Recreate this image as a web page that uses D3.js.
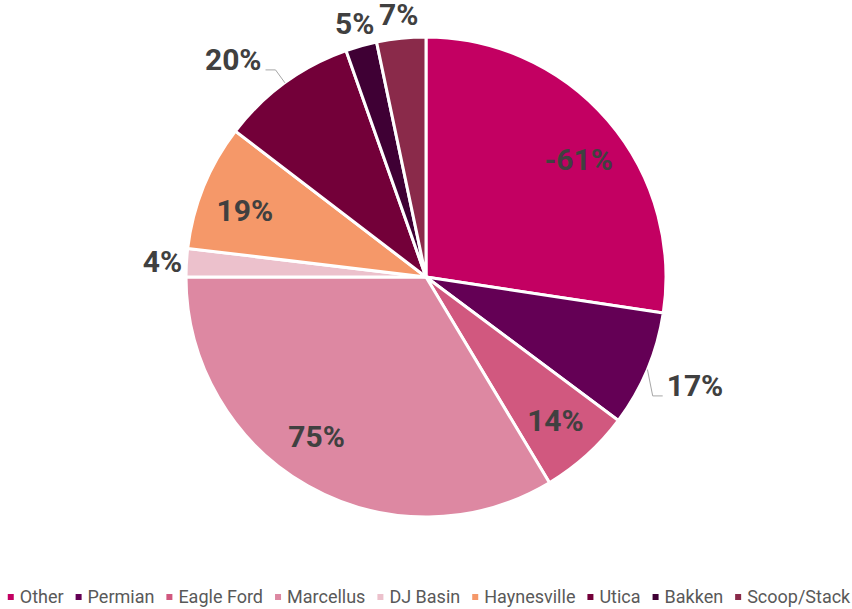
<!DOCTYPE html>
<meta charset='utf-8'>
<html>
  <style>
    body { margin: 0; background: #fff; }
    .lbl { font-family: Roboto, sans-serif; font-weight: 700; font-size: 30px; fill: #404040; }
    .legend text { font-family: Roboto, sans-serif; font-size: 18px; fill: #595959; }
    .leader { fill: none; stroke: #a6a6a6; stroke-width: 1px; }
  </style>
  <head>
    <script src="https://cdnjs.cloudflare.com/ajax/libs/d3/7.8.5/d3.min.js" charset="utf-8"></script>
  </head>
  <body>
    <div id="chart"></div>
    <script type="text/javascript">
      // slice sizes (share of the pie) and the labels shown on them
      var basins = ['Other', 'Permian', 'Eagle Ford', 'Marcellus', 'DJ Basin', 'Haynesville', 'Utica', 'Bakken', 'Scoop/Stack'],
        shares = [27.4, 7.8, 6.2, 33.6, 1.9, 8.5, 9.2, 2.1, 3.3],
        labels = ['-61%', '17%', '14%', '75%', '4%', '19%', '20%', '5%', '7%'],
        placement = ['in', 'leader', 'in', 'in', 'out', 'in', 'leader', 'out', 'out'],
        colors = ['#c30062', '#640055', '#d1587f', '#dd88a2', '#ecc1cc', '#f59869', '#730039', '#3f0034', '#8a2a4a'];

      var width = 852, height = 609,
        cx = 426, cy = 277, r = 240;

      // small angle nudges (degrees) for label placement, like the label fitting does
      var nudge = {'Other': 3, 'Permian': 5, 'Marcellus': 5, 'Haynesville': -2};

      var svg = d3.select('#chart').append('svg')
        .attr('width', width)
        .attr('height', height);

      var g = svg.append('g').attr('transform', 'translate(' + cx + ',' + cy + ')');

      var data = basins.map(function(b, i) {
        return {name: b, value: shares[i], label: labels[i], place: placement[i], color: colors[i]};
      });

      var pie = d3.pie().sort(null).value(function(d) { return d.value; });
      var arc = d3.arc().innerRadius(0).outerRadius(r);
      var arcs = pie(data);

      g.selectAll('path.slice')
        .data(arcs).enter().append('path')
          .attr('class', 'slice')
          .attr('d', arc)
          .style('fill', function(d) { return d.data.color; })
          .style('stroke', '#fff')
          .style('stroke-width', 3);

      function mid(d) { return (d.startAngle + d.endAngle) / 2 + (nudge[d.data.name] || 0) * Math.PI / 180; }
      function pt(a, rad) { return [rad * Math.sin(a), -rad * Math.cos(a)]; }

      // inside labels
      g.selectAll('text.in')
        .data(arcs.filter(function(d) { return d.data.place == 'in'; }))
        .enter().append('text')
          .attr('class', 'lbl in')
          .attr('text-anchor', 'middle')
          .attr('dy', '0.36em')
          .attr('x', function(d) { return pt(mid(d), 193)[0]; })
          .attr('y', function(d) { return pt(mid(d), 193)[1]; })
          .text(function(d) { return d.data.label; });

      // outside labels without a line
      g.selectAll('text.out')
        .data(arcs.filter(function(d) { return d.data.place == 'out'; }))
        .enter().append('text')
          .attr('class', 'lbl out')
          .attr('text-anchor', 'middle')
          .attr('dy', '0.36em')
          .attr('x', function(d) { return pt(mid(d), 264)[0]; })
          .attr('y', function(d) { return pt(mid(d), 264)[1]; })
          .text(function(d) { return d.data.label; });

      // outside labels with a leader line
      var lead = arcs.filter(function(d) { return d.data.place == 'leader'; });
      lead.forEach(function(d) {
        var a0 = (d.startAngle + d.endAngle) / 2,
          a = mid(d),
          p0 = pt(a0, r),
          p1 = pt(a, r + 16),
          side = Math.sin(a) > 0 ? 1 : -1,
          p2 = [p1[0] + side * 10, p1[1]];
        g.append('path')
          .attr('class', 'leader')
          .attr('d', d3.line()([p0, p1, p2]));
        g.append('text')
          .attr('class', 'lbl')
          .attr('text-anchor', side > 0 ? 'start' : 'end')
          .attr('x', p2[0] + side * 4)
          .attr('y', p2[1])
          .text(d.data.label);
      });

      // legend
      var legend = svg.append('g').attr('class', 'legend');
      var items = legend.selectAll('g.item')
        .data(data).enter().append('g')
          .attr('class', 'item');
      items.append('rect')
        .attr('width', 6).attr('height', 6)
        .attr('y', -3)
        .style('fill', function(d) { return d.color; });
      items.append('text')
        .attr('x', 12)
        .attr('dy', '0.35em')
        .text(function(d) { return d.name; });

      var gap = 12, xpos = 0;
      items.each(function() {
        var w = 12 + d3.select(this).select('text').node().getComputedTextLength();
        d3.select(this).attr('transform', 'translate(' + xpos + ',0)');
        xpos += w + gap;
      });
      var total = xpos - gap;
      legend.attr('transform', 'translate(' + ((width - total) / 2 + 3) + ',597)');
    </script>
  </body>
</html>
